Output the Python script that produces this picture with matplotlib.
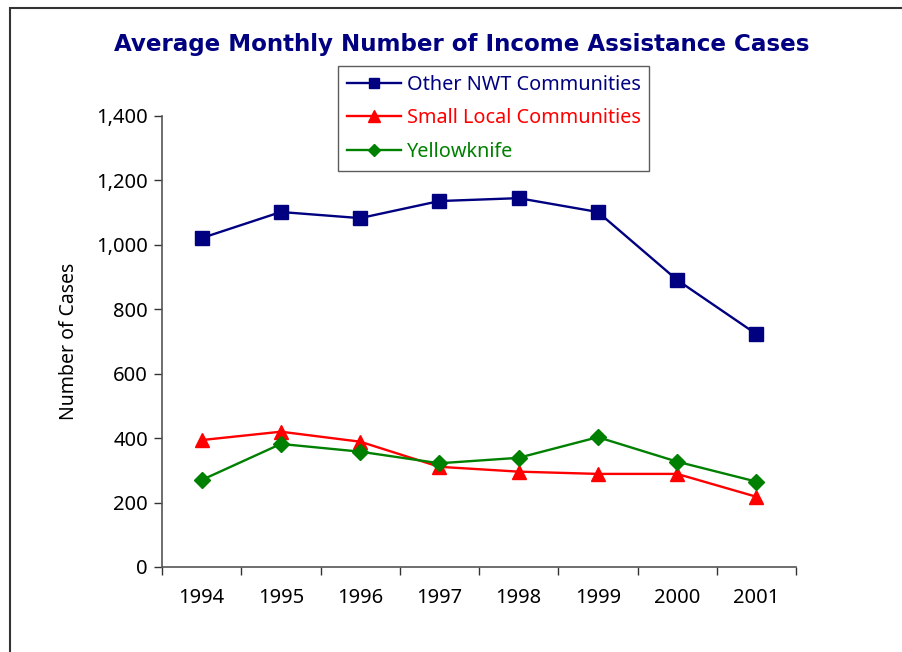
import matplotlib
matplotlib.use("Agg")
import matplotlib.pyplot as plt
from matplotlib.patches import Rectangle
from matplotlib.ticker import FuncFormatter, FixedLocator, NullFormatter

years = ["1994", "1995", "1996", "1997", "1998", "1999", "2000", "2001"]
other_nwt = [1021, 1102, 1083, 1136, 1145, 1102, 891, 723]
small_local = [394, 420, 389, 311, 296, 289, 289, 218]
yellowknife = [270, 382, 358, 322, 339, 403, 327, 265]

NAVY = "#000080"
RED = "#FF0000"
GREEN = "#008000"

plt.rcParams["font.family"] = ["Noto Sans", "DejaVu Sans"]

fig = plt.figure(figsize=(9.03, 6.52), dpi=100)

# outer chart frame (top and left edges visible)
fig.patches.append(Rectangle((10 / 903, -0.1), 1.2, 1 - 8 / 652 + 0.1,
                             transform=fig.transFigure, fill=False,
                             edgecolor="#333333", linewidth=1.5))

ax = fig.add_axes([162 / 903, 1 - 567 / 652, (796 - 162) / 903, (567 - 116) / 652])

x = list(range(len(years)))
series = [
    ("Other NWT Communities", other_nwt, NAVY, "s", 9.5),
    ("Small Local Communities", small_local, RED, "^", 10),
    ("Yellowknife", yellowknife, GREEN, "D", 8),
]
for label, vals, col, mk, ms in series:
    ax.plot(x, vals, color=col, marker=mk, markersize=ms, linewidth=1.7,
            label=label, markeredgecolor=col)

ax.set_xlim(-0.5, len(years) - 0.5)
ax.set_ylim(0, 1400)
ax.set_yticks(range(0, 1401, 200))
ax.yaxis.set_major_formatter(FuncFormatter(lambda v, p: f"{int(v):,}"))

# category ticks between groups, labels at centers
ax.xaxis.set_major_locator(FixedLocator([i - 0.5 for i in range(len(years) + 1)]))
ax.xaxis.set_major_formatter(NullFormatter())
ax.xaxis.set_minor_locator(FixedLocator(x))
ax.set_xticks(x, minor=True)
ax.set_xticklabels(years, minor=True)
ax.tick_params(axis="x", which="minor", length=0, pad=15, labelsize=14.5)
ax.tick_params(axis="x", which="major", length=6, width=1, direction="out", color="#333333")
ax.tick_params(axis="y", length=6, width=1, direction="out", color="#333333", labelsize=14.5, pad=4)

for s in ["top", "right"]:
    ax.spines[s].set_visible(False)
for s in ["left", "bottom"]:
    ax.spines[s].set_color("#555555")
    ax.spines[s].set_linewidth(1.2)

ax.set_ylabel("Number of Cases", fontsize=14)
ax.yaxis.set_label_coords(-0.131, 0.5)

fig.text(0.5 * (113 + 810) / 903, 1 - 44 / 652,
         "Average Monthly Number of Income Assistance Cases",
         ha="center", va="center", fontsize=16.6, fontweight="bold",
         color=NAVY, family="DejaVu Sans")

leg = fig.legend(loc="upper left", bbox_to_anchor=(338 / 903, 1 - 66 / 652),
                 frameon=True, fancybox=False, fontsize=14.3, handlelength=2.7,
                 handletextpad=0.3, borderpad=0.45, labelspacing=0.68,
                 borderaxespad=0, markerscale=0.8)
leg.get_frame().set_edgecolor("#333333")
leg.get_frame().set_linewidth(1.0)
for txt, (_, _, col, _, _) in zip(leg.get_texts(), series):
    txt.set_color(col)

fig.savefig("out.png", dpi=100)
